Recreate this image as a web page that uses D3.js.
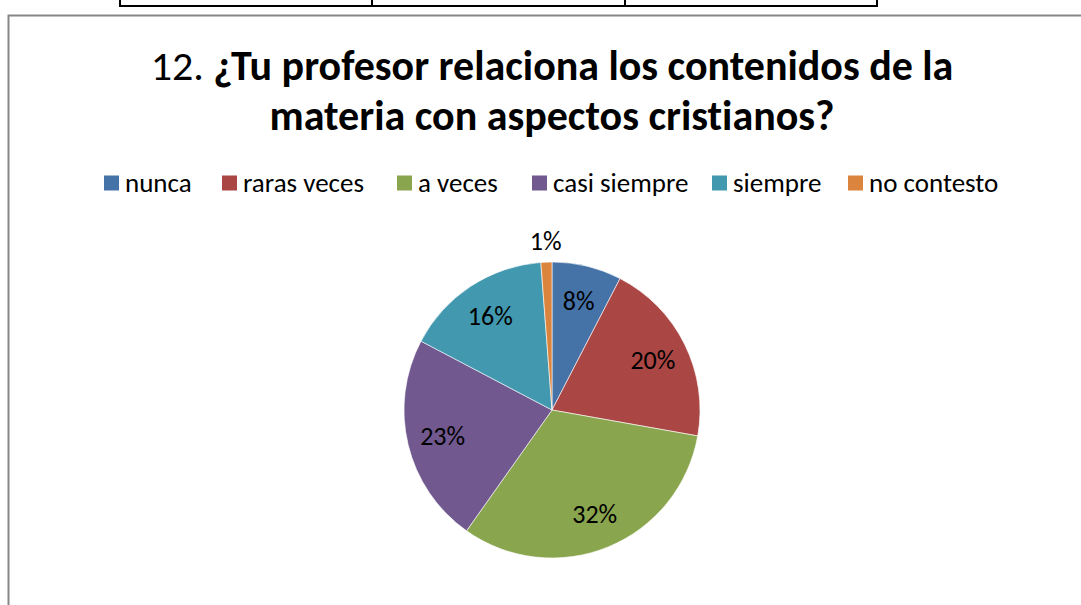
<!DOCTYPE html>
<html>
<head>
<meta charset="utf-8">
<script src="https://cdn.jsdelivr.net/npm/d3@7/dist/d3.min.js"></script>
<style>
  body { margin: 0; background: #fff; }
  svg { display: block; font-family: Carlito, Lato, "Open Sans", sans-serif; font-variant-ligatures: none; }
</style>
</head>
<body>
<div id="chart"></div>
<script>
'use strict';

// answers to question 12 (percent of students)
var categories = ['nunca', 'raras veces', 'a veces', 'casi siempre', 'siempre', 'no contesto'];
var values = [7.6, 20.2, 32.0, 22.9, 16.1, 1.2];
var colors = ['#4572A7', '#AA4643', '#89A54E', '#71588F', '#4198AF', '#DB843D'];
var titleNumber = '12.';
var titleLines = ['¿Tu profesor relaciona los contenidos de la', 'materia con aspectos cristianos?'];

var width = 1081, height = 605;

var svg = d3.select('#chart').append('svg')
    .attr('width', width)
    .attr('height', height);

// bit of the table from the page above the chart
var tableCols = [120, 372, 625, 877];
svg.append('line')
    .attr('x1', tableCols[0]).attr('x2', tableCols[3])
    .attr('y1', 6).attr('y2', 6)
    .attr('stroke', '#000').attr('stroke-width', 2);
svg.selectAll('.tcol')
    .data(tableCols)
    .enter().append('line')
    .attr('class', 'tcol')
    .attr('x1', function (d) { return d; })
    .attr('x2', function (d) { return d; })
    .attr('y1', -2).attr('y2', 7)
    .attr('stroke', '#000').attr('stroke-width', 2);

// chart frame
svg.append('rect')
    .attr('x', 8.5).attr('y', 15.5)
    .attr('width', 1100).attr('height', 620)
    .attr('fill', '#fff')
    .attr('stroke', '#878787')
    .attr('stroke-width', 2);

// title
var title = svg.append('text')
    .attr('text-anchor', 'middle')
    .attr('font-size', 42)
    .attr('fill', '#000');
var t1 = title.append('tspan')
    .attr('x', 552).attr('y', 80);
t1.append('tspan').text(titleNumber + ' ');
t1.append('tspan').attr('font-weight', 'bold').text(titleLines[0]);
title.append('tspan')
    .attr('x', 552).attr('y', 130)
    .attr('font-weight', 'bold')
    .text(titleLines[1]);

// legend
var legendX = [104, 222, 397, 532, 712, 848];
var legend = svg.selectAll('.legend')
    .data(categories)
    .enter().append('g')
    .attr('class', 'legend')
    .attr('transform', function (d, i) {
        return 'translate(' + legendX[i] + ',183)';
    });
legend.append('rect')
    .attr('x', 0).attr('y', -7.5)
    .attr('width', 15).attr('height', 15)
    .attr('fill', function (d, i) { return colors[i]; });
legend.append('text')
    .attr('x', 21)
    .attr('dy', '0.35em')
    .attr('font-size', 27)
    .attr('fill', '#000')
    .text(function (d) { return d; });

// pie
var cx = 552, cy = 410, radius = 148;
var pie = d3.pie().sort(null).value(function (d) { return d; });
var arcs = pie(values);
var arc = d3.arc().innerRadius(0).outerRadius(radius);
var labelArc = d3.arc().innerRadius(radius * 0.76).outerRadius(radius * 0.76);
var outerArc = d3.arc().innerRadius(radius + 21).outerRadius(radius + 21);
var fmt = d3.format('.0f');

var g = svg.append('g')
    .attr('transform', 'translate(' + cx + ',' + cy + ')');

g.selectAll('path')
    .data(arcs)
    .enter().append('path')
    .attr('d', arc)
    .attr('fill', function (d, i) { return colors[i]; })
    .attr('stroke', '#fff')
    .attr('stroke-width', 0.6);

g.selectAll('.lbl')
    .data(arcs)
    .enter().append('text')
    .attr('class', 'lbl')
    .attr('transform', function (d) {
        var p = d.data < 3 ? outerArc.centroid(d) : labelArc.centroid(d);
        return 'translate(' + p + ')';
    })
    .attr('text-anchor', 'middle')
    .attr('dy', '0.35em')
    .attr('font-size', 26)
    .attr('fill', '#000')
    .text(function (d) { return fmt(d.data) + '%'; });
</script>
</body>
</html>
